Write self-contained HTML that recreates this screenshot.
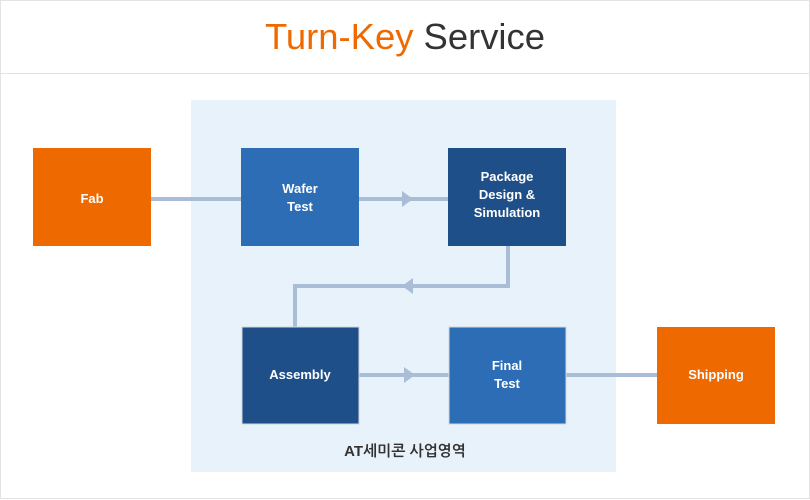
<!DOCTYPE html>
<html><head><meta charset="utf-8"><style>
html,body{margin:0;padding:0;background:#fff}
svg{display:block}
text{font-family:"Liberation Sans","NanumGothic",sans-serif}
</style></head><body>
<svg width="810" height="500" viewBox="0 0 810 500" xmlns="http://www.w3.org/2000/svg">
<rect x="0.5" y="0.5" width="809" height="498" fill="#fff" stroke="#e3e3e3"/>
<line x1="0" y1="73.5" x2="810" y2="73.5" stroke="#e3e3e3"/>
<text x="405" y="49" text-anchor="middle" font-size="36" fill="#333" textLength="280" lengthAdjust="spacingAndGlyphs"><tspan fill="#ee6a00">Turn-Key</tspan> Service</text>
<rect x="191" y="100" width="425" height="372" fill="#e8f2fa"/>
<g stroke="#a9bdd6" stroke-width="4" fill="none">
<line x1="151" y1="199" x2="448" y2="199"/>
<polyline points="508,246 508,286 295,286 295,327"/>
<line x1="359" y1="375" x2="657" y2="375"/>
</g>
<g fill="#a9bdd6">
<polygon points="402,191 413,199 402,207"/>
<polygon points="413,278 402,286 413,294"/>
<polygon points="404,367 415,375 404,383"/>
</g>
<g stroke="#d0d6de" stroke-width="1">
<rect x="33" y="148" width="118" height="98" fill="#ee6a00" stroke="none"/>
<rect x="241" y="148" width="118" height="98" fill="#2c6db5" stroke="none"/>
<rect x="448" y="148" width="118" height="98" fill="#1e4f88" stroke="none"/>
<rect x="242" y="327" width="117" height="97" fill="#1e4f88"/>
<rect x="449" y="327" width="117" height="97" fill="#2c6db5"/>
<rect x="657" y="327" width="118" height="97" fill="#ee6a00" stroke="none"/>
</g>
<g fill="#fff" font-size="13" font-weight="bold" text-anchor="middle">
<text x="92" y="203">Fab</text>
<text x="300" y="193">Wafer</text><text x="300" y="211">Test</text>
<text x="507" y="181">Package</text><text x="507" y="199">Design &amp;</text><text x="507" y="217">Simulation</text>
<text x="300" y="379">Assembly</text>
<text x="507" y="370">Final</text><text x="507" y="388">Test</text>
<text x="716" y="379">Shipping</text>
</g>
<text x="405" y="456" text-anchor="middle" font-size="15" font-weight="bold" fill="#333">AT세미콘 사업영역</text>
</svg>
</body></html>
